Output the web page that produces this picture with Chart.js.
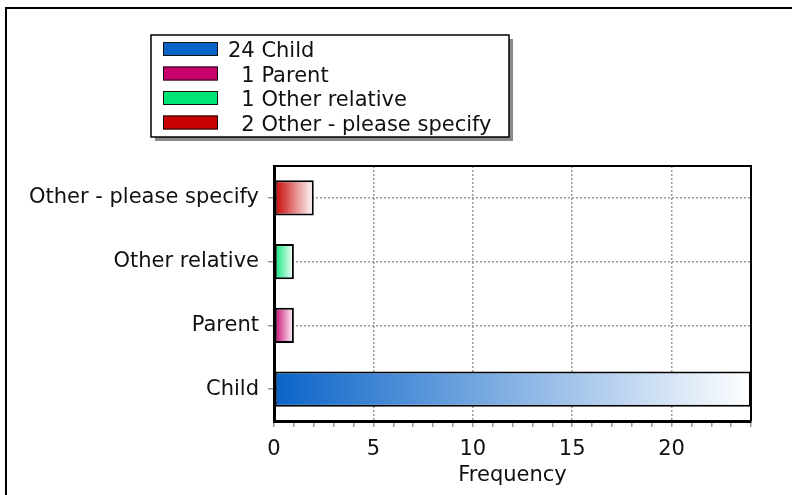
<!DOCTYPE html>
<html>
<head>
<meta charset="utf-8">
<script src="https://cdn.jsdelivr.net/npm/chart.js@4/dist/chart.umd.min.js"></script>
<style>
  html, body { margin: 0; padding: 0; background: #fff; }
  #wrap { width: 792px; height: 495px; position: relative; }
</style>
</head>
<body>
<div id="wrap"><canvas id="chart" width="792" height="495"></canvas></div>
<script>
const categories = ['Child', 'Parent', 'Other relative', 'Other - please specify'];
const counts = [24, 1, 1, 2];
const barColors = ['#0a64c8', '#c8006e', '#00e676', '#c80000'];
const axisMax = 24;
const axisTitle = 'Frequency';

const FONT = "'DejaVu Sans', Verdana, sans-serif";
const FSIZE = 21;

// outer frame, plot border and the boxed legend
const decorations = {
  id: 'decorations',
  afterDraw(chart) {
    const c = chart.ctx;
    const a = chart.chartArea;
    c.save();
    c.fillStyle = '#000';
    c.fillRect(5, 7, 2, 495);
    c.fillRect(5, 7, 792, 2);

    c.strokeStyle = '#000';
    c.lineWidth = 2;
    c.beginPath();
    c.moveTo(a.left, a.top);
    c.lineTo(a.right, a.top);
    c.lineTo(a.right, a.bottom);
    c.stroke();

    // legend box with shadow
    const bx = 151, by = 35, bw = 358, bh = 102;
    c.fillStyle = '#8a8a8a';
    c.fillRect(bx + 4, by + 4, bw, bh);
    c.fillStyle = '#fff';
    c.fillRect(bx, by, bw, bh);
    c.lineWidth = 1.5;
    c.strokeStyle = '#000';
    c.strokeRect(bx, by, bw, bh);

    c.font = FSIZE + 'px ' + FONT;
    c.textBaseline = 'middle';
    const numRight = 228 + c.measureText('24').width;
    categories.forEach((name, i) => {
      const y = 42 + i * 24.5;
      c.fillStyle = barColors[i];
      c.fillRect(163, y, 55, 14);
      c.lineWidth = 1;
      c.strokeStyle = '#111';
      c.strokeRect(163.5, y + 0.5, 54, 13);
      c.fillStyle = '#111';
      c.textAlign = 'right';
      c.fillText(String(counts[i]), numRight, y + 10);
      c.textAlign = 'left';
      c.fillText(' ' + name, numRight, y + 10);
    });
    c.restore();
  }
};

new Chart(document.getElementById('chart'), {
  type: 'bar',
  data: {
    labels: categories,
    datasets: [{
      data: counts,
      backgroundColor: (ctx) => {
        const chart = ctx.chart;
        const col = barColors[ctx.dataIndex];
        if (!chart.chartArea) return col;
        const xs = chart.scales.x;
        const x0 = xs.getPixelForValue(0);
        const x1 = xs.getPixelForValue(ctx.raw);
        const g = chart.ctx.createLinearGradient(x0, 0, x1, 0);
        g.addColorStop(0, col);
        g.addColorStop(1, '#ffffff');
        return g;
      },
      borderColor: '#000',
      borderWidth: 2,
      borderSkipped: false,
      categoryPercentage: 1,
      barPercentage: 0.55
    }]
  },
  options: {
    indexAxis: 'y',
    responsive: false,
    animation: false,
    layout: { padding: { left: 0, top: 166, right: 41, bottom: 0 } },
    plugins: {
      legend: { display: false },
      tooltip: { enabled: false }
    },
    scales: {
      x: {
        min: 0,
        max: axisMax,
        afterFit: (s) => { s.height = 74; },
        border: { color: '#000', width: 3, dash: [2, 2] },
        grid: {
          color: (ctx) => (ctx.tick && ctx.tick.value % 5 === 0 && ctx.tick.value > 0) ? '#999' : 'rgba(0,0,0,0)',
          lineWidth: 1.5,
          tickColor: '#999',
          tickLength: 6,
          tickBorderDash: [],
          tickWidth: 1.5
        },
        ticks: {
          stepSize: 1,
          autoSkip: false,
          maxRotation: 0,
          padding: 10,
          color: '#111',
          font: { family: FONT, size: FSIZE },
          callback: (v) => (v % 5 === 0 ? String(v) : '')
        },
        title: {
          display: true,
          text: axisTitle,
          color: '#111',
          font: { family: FONT, size: FSIZE },
          padding: { top: 0, bottom: 7 }
        }
      },
      y: {
        reverse: true,
        afterFit: (s) => { s.width = 274; },
        border: { color: '#000', width: 3, dash: [2, 2] },
        grid: {
          offset: false,
          color: '#999',
          lineWidth: 1.5,
          tickColor: '#999',
          tickLength: 6,
          tickBorderDash: [],
          tickWidth: 1.5
        },
        ticks: {
          padding: 9,
          color: '#111',
          font: { family: FONT, size: FSIZE }
        }
      }
    }
  },
  plugins: [decorations]
});
</script>
</body>
</html>
